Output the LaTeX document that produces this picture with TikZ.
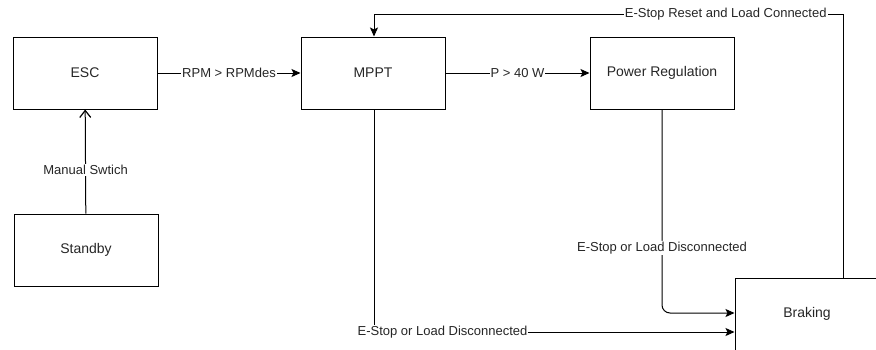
\documentclass[tikz,border=0pt]{standalone}
\usepackage{fontspec}
\setmainfont{Liberation Sans}
\usepackage{xcolor}
\usepackage{tikz}
\usetikzlibrary{arrows.meta}

\begin{document}
\begin{tikzpicture}[
    x=1pt, y=-1pt,
    state/.style={draw, line width=1pt, minimum width=144pt, minimum height=72pt, text=black!85, font=\fontsize{14}{16}\selectfont},
    lbl/.style={fill=white, inner sep=1pt, text=black!85, font=\fontsize{13}{15}\selectfont},
    arrow/.style={->, line width=1pt, >={Stealth[length=9pt, width=8pt, inset=2pt]}},
    openarrow/.style={-{Straight Barb[length=7pt, width=11pt, line width=1.2pt]}, line width=1pt}
]
    \useasboundingbox (0,0) rectangle (876,349);
    \clip (0,0) rectangle (876,349);

    \node[state] (esc) at (85,73) {ESC};
    \node[state] (mppt) at (373,73) {MPPT};
    \node[state] (preg) at (662,73) {Power Regulation};
    \node[state] (standby) at (86,250) {Standby};
    \node[state] (brake) at (807,314) {Braking};

    \coordinate (tr) at (843,14);
    \coordinate (tl) at (374,14);
    \coordinate (pbend) at (662,313);
    \coordinate (mbend) at (374,332);

    \draw[openarrow] (standby) -- node[lbl, pos=0.42] {Manual Swtich} (esc);
    \draw[arrow] (esc) -- node[lbl] {RPM > RPMdes} (mppt);
    \draw[arrow] (mppt) -- node[lbl] {P > 40 W} (preg);
    \draw[arrow] (tr |- brake.north) -- (tr) -- node[lbl, pos=0.25] {E-Stop Reset and Load Connected} (tl) -- (tl |- mppt.north);
    \draw[arrow, rounded corners=8pt] (preg.south) -- node[lbl, pos=0.68] {E-Stop or Load Disconnected} (pbend) -- (brake.west |- pbend);
    \draw[arrow] (mppt.south -| mbend) -- (mbend) -- node[lbl, pos=0.19] {E-Stop or Load Disconnected} (brake.west |- mbend);
\end{tikzpicture}
\end{document}
